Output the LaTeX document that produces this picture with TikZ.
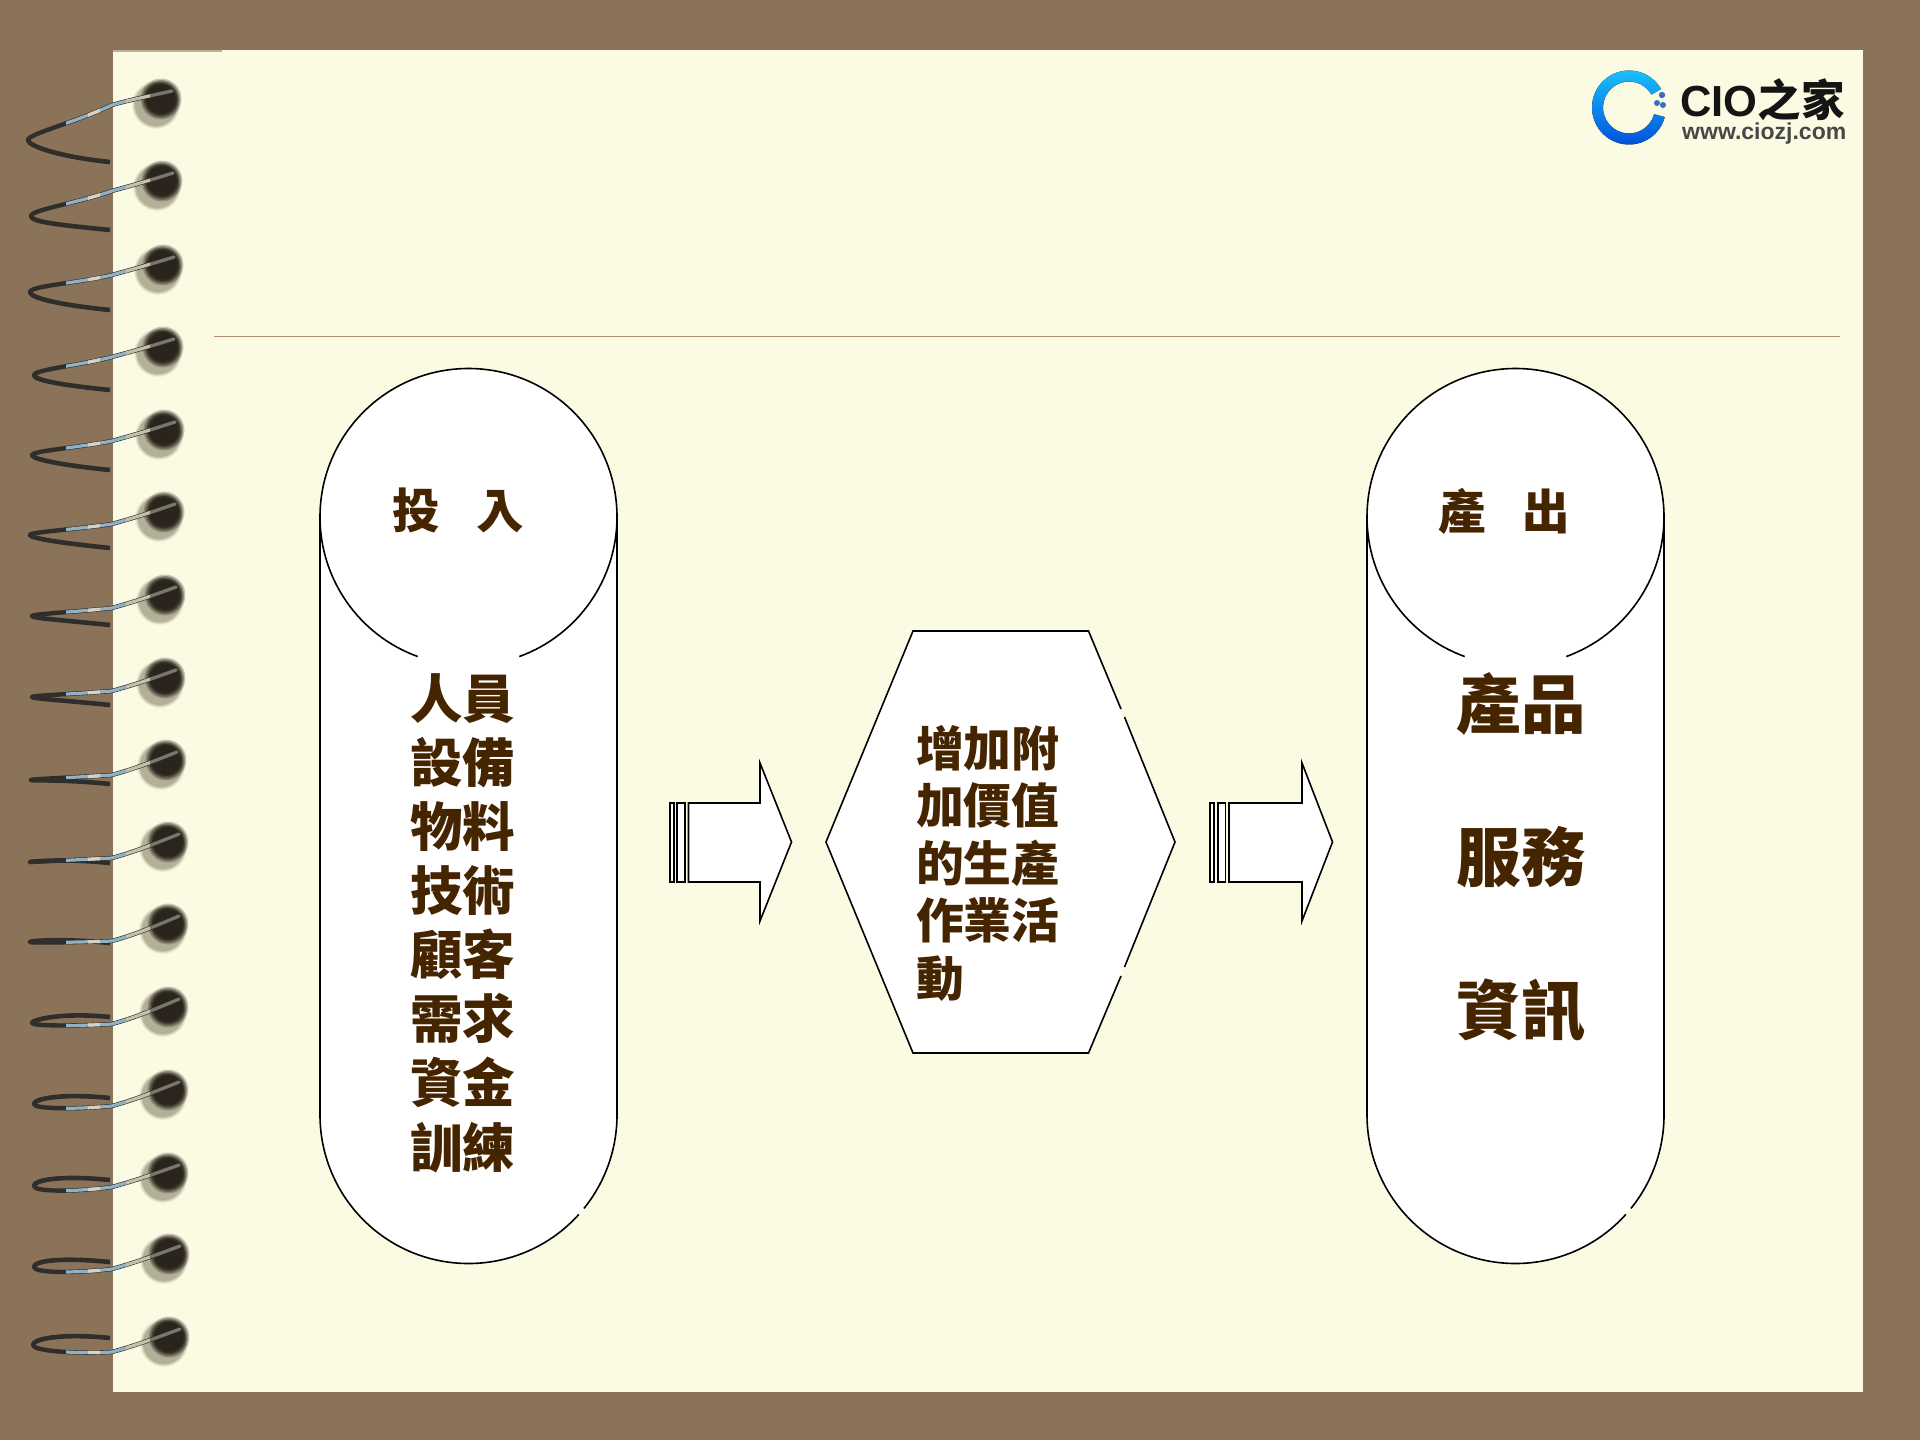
\documentclass[tikz,border=0pt]{standalone}
\usepackage{fontspec}
\newfontfamily\cjk{Noto Sans CJK TC}
\newfontfamily\cjksc{Noto Sans CJK SC}
\setmainfont{Liberation Sans}
\definecolor{frame}{HTML}{8B735A}
\definecolor{paper}{HTML}{FBFBE3}
\definecolor{ink}{HTML}{452400}
\definecolor{rulec}{HTML}{B08D70}
\definecolor{wiredark}{HTML}{2F2E2A}
\definecolor{wireblue}{HTML}{8FB2C6}
\definecolor{wirepale}{HTML}{D8D2C4}
\definecolor{wirebeige}{HTML}{C4C0AC}
\definecolor{wiregrey}{HTML}{77776A}
\definecolor{ballpale}{HTML}{B3B098}
\definecolor{balldark}{HTML}{2A241C}
\tikzset{
  shapeline/.style={draw=black,line width=1.6pt},
  shapefill/.style={fill=white},
  textlabel/.style={inner sep=0pt,outer sep=0pt,text=ink},
  wire/.style={line width=3.2pt,line cap=round}
}
\newcommand{\arrowblock}[7]{% x1 x2 x3 x4 body base tip
  \fill[white] (#1,803) rectangle (#2,882);
  \draw[line width=1.3pt] (#1,803) rectangle (#2,882);
  \fill[white] (#3,803) rectangle (#4,882);
  \draw[line width=1.3pt] (#3,803) rectangle (#4,882);
  \draw[shapeline,shapefill,line join=miter] (#5,803) -- (#6,803) -- (#6,763) -- (#7,842) -- (#6,921) -- (#6,882) -- (#5,882) -- cycle;
}
\newcommand{\cylinder}[1]{% x-left
  \fill[white] (#1,517) arc[start angle=180,end angle=360,radius=148.5] -- ++(0,598) arc[start angle=0,end angle=180,radius=148.5] -- cycle;
  \draw[shapeline] (#1,1115) -- (#1,517) arc[start angle=180,end angle=360,radius=148.5] -- ++(0,598) arc[start angle=0,end angle=39,radius=148.5];
  \draw[shapeline] ({#1+148.5+148.5*cos(42)},{1115+148.5*sin(42)}) arc[start angle=42,end angle=180,radius=148.5];
  \draw[shapeline] (#1,517) arc[start angle=180,end angle=110,radius=148.5];
  \draw[shapeline] ({#1+297},517) arc[start angle=0,end angle=70,radius=148.5];
}
\begin{document}
\begin{tikzpicture}[x=1pt,y=-1pt]
\useasboundingbox (0,0) rectangle (1920,1440);
\fill[frame] (0,0) rectangle (1920,1440);
\fill[paper] (112.8,50) rectangle (1863,1391.5);
\fill[frame!55!paper] (112.8,50) rectangle (222,51.5);
\draw[rulec,line width=1pt] (214,336) -- (1840,336);

% spiral binding
\foreach \cx/\cy/\ax/\ay/\ty/\ey/\s in {
 158/103/28/140/162/105/-6, 159/185/31/216/230/191/-6, 160/269/30/292/310/275/-6,
 160/351/34/375/390/357/-5, 161/434/32/455/470/441/-4, 161/516/30/535/548/524/-3,
 162/599/32/616/625/608/-2, 162/682/32/697/705/691/-1.5, 163/764/31/780/784/775/-1,
 165/846/30/862/863/858/0, 165/928/30/942/943/941/1, 165/1011/32/1023/1017/1024/3,
 165/1094/34/1104/1098/1106/5, 165/1177/34/1186/1180/1187/6, 166/1258/34/1267/1262/1269/6,
 166/1341/33/1345/1338/1352/6}{
  \pgfmathsetmacro\cc{(\ey+\ay)/2+0.9*max(\s,0)}
  \foreach \rr/\oo in {24/.18,23/.3,22/.5,21/1}{
    \fill[ballpale,opacity=\oo] (\cx-2,\cy+2) circle (\rr);
  }
  \foreach \rr/\oo in {20.5/.25,19/.35,17.5/.5,16/.7,14.5/1}{
    \fill[balldark,opacity=\oo] (\cx+3,\cy-4) circle (\rr);
  }
  \draw[wire,line width=4.6pt,color=wiredark,line cap=butt] (\ax,\ay) .. controls (\ax,{\ay-\s}) and (60,{\ty-5}) .. (110,\ty);
  \def\frontpath{(\cx+14,\cy-12) .. controls (135,{\ey-6}) and (122,{\ey-3}) .. (112,\ey) .. controls (75,\cc) and (\ax,{\ay+\s}) .. (\ax,\ay)}
  \draw[wire,line width=4.4pt,color=wiredark] \frontpath;
  \begin{scope}\clip (66,\cy-70) rectangle (128,\cy+70);
    \draw[wire,color=wireblue] \frontpath;
  \end{scope}
  \begin{scope}\clip (88,\cy-70) rectangle (100,\cy+70);
    \draw[wire,color=wirepale] \frontpath;
  \end{scope}
  \begin{scope}\clip (126,\cy-70) rectangle (150,\cy+70);
    \draw[wire,color=wirebeige] \frontpath;
  \end{scope}
  \begin{scope}\clip (150,\cy-70) rectangle (185,\cy+70);
    \draw[wire,color=wiregrey] \frontpath;
  \end{scope}
}

% logo
\fill[top color=cyan!75!blue!90!white,bottom color=blue!65!cyan!85!black]
  (1629,107.5) ++(15:37) arc[start angle=15,end angle=330,radius=37]
  -- ++({-11*cos(330)},{-11*sin(330)}) arc[start angle=330,end angle=15,radius=26] -- cycle;
\fill[cyan!40!blue!85!white] (1662,95) circle (3.2) (1657,103) circle (3) (1663,105) circle (3);
\node[inner sep=0pt,anchor=base west,text=black!92,font=\bfseries] (logotext) at (1680,116)
  {\fontsize{43.5}{43.5}\selectfont CIO\cjksc\fontsize{43.5}{43.5}\selectfont 之家};
\node[inner sep=0pt,anchor=base west,text=black!72,font=\bfseries] (logourl) at (1682,139)
  {\fontsize{23}{23}\selectfont www.ciozj.com};

% cylinders
\cylinder{320}
\cylinder{1367}

% hexagon
\fill[white] (913,631) -- (1088.5,631) -- (1175,842) -- (1088.5,1053) -- (913,1053) -- (826,842) -- cycle;
\draw[shapeline] (1124.5,717) -- (1175,842) -- (1124.5,967);
\draw[shapeline] (1121,976) -- (1088.5,1053) -- (913,1053) -- (826,842) -- (913,631) -- (1088.5,631) -- (1121,709);

% block arrows
\arrowblock{670}{674}{677}{685}{688.5}{760}{791.5}
\arrowblock{1210}{1214}{1218}{1225.5}{1229}{1302}{1332.5}

% texts
\node[textlabel,font=\cjk\bfseries\fontsize{47.5}{47.5}\selectfont] (inhead) at (458,510.5) {投\hspace{37pt}入};
\node[textlabel,font=\cjk\bfseries\fontsize{47.5}{47.5}\selectfont] (outhead) at (1504,511) {產\hspace{37pt}出};
\node[textlabel,align=center,font=\cjk\bfseries\fontsize{52.5}{64.1}\selectfont] (inlist) at (462.5,923) {人員\\設備\\物料\\技術\\顧客\\需求\\資金\\訓練};
\node[textlabel,align=left,anchor=west,font=\cjk\bfseries\fontsize{47.8}{57.5}\selectfont] (midtext) at (916,863) {增加附\\加價值\\的生產\\作業活\\動};
\node[textlabel,align=center,font=\cjk\bfseries\fontsize{64.5}{153}\selectfont] (outlist) at (1521,857) {產品\\服務\\資訊};
\end{tikzpicture}
\end{document}
